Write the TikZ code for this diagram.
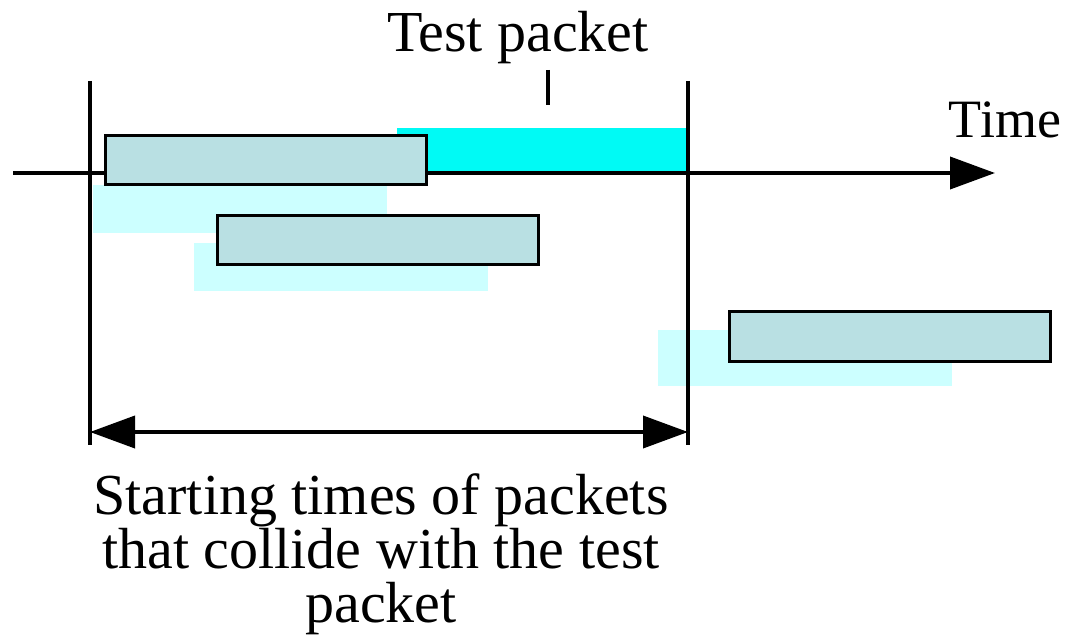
\documentclass[tikz,border=0pt]{standalone}
\usepackage{fontspec}
\setmainfont{Liberation Serif}
\usetikzlibrary{arrows.meta}
\definecolor{pktfill}{HTML}{B9E0E3}
\definecolor{shadowfill}{HTML}{CCFFFF}
\definecolor{testfill}{HTML}{00FAF5}
\tikzset{
  pkt/.style={draw=black, line width=3pt, fill=pktfill, minimum width=321pt, minimum height=49pt, inner sep=0pt},
  shadowbox/.style={fill=shadowfill, draw=none, minimum width=294pt, minimum height=48pt, inner sep=0pt},
  testbox/.style={fill=testfill, draw=none, minimum width=291pt, minimum height=45pt, inner sep=0pt},
  thick line/.style={line width=3.8pt},
  bigtip/.style={-{Triangle[length=45pt,width=32pt]}},
  lbl/.style={inner sep=0pt, font=\fontsize{58}{54}\selectfont}
}
\begin{document}
\begin{tikzpicture}[x=1pt,y=-1pt]
\useasboundingbox (0,0) rectangle (1079,644);
% shadows
\node[shadowbox] (s1) at (240,209) {};
\node[shadowbox] (s2) at (341,267) {};
\node[shadowbox, minimum height=55pt] (s3) at (805,358) {};
% test packet
\node[testbox] (tp) at (542.5,150.5) {};
% axis and boundaries
\coordinate (axstart) at (13,173);
\coordinate (axend) at (995,173);
\coordinate (ltop) at (90,81);
\coordinate (lbot) at (90,445);
\coordinate (rtop) at (688,81);
\coordinate (rbot) at (688,445);
\coordinate (la) at (90,432);
\coordinate (ra) at (688,432);
\coordinate (ticktop) at (548,70);
\coordinate (tickbot) at (548,105);
\draw[thick line, bigtip] (axstart) -- (axend);
\draw[thick line] (ltop) -- (lbot);
\draw[thick line] (rtop) -- (rbot);
\draw[thick line] (ticktop) -- (tickbot);
\draw[thick line, {Triangle[length=45pt,width=32pt]}-{Triangle[length=45pt,width=32pt]}] (la) -- (ra);
% packets
\node[pkt] (p1) at (265.5,160.5) {};
\node[pkt] (p2) at (377.5,240.5) {};
\node[pkt] (p3) at (889.5,336.5) {};
% labels
\node[lbl, anchor=base] (testlbl) at (518,52) {Test packet};
\node[lbl, anchor=base, font=\fontsize{54}{54}\selectfont] (timelbl) at (1005,138) {Time};
\node[lbl, anchor=north, align=center] (startlbl) at (381,473) {Starting times of packets\\that collide with the test\\packet};
\end{tikzpicture}
\end{document}
